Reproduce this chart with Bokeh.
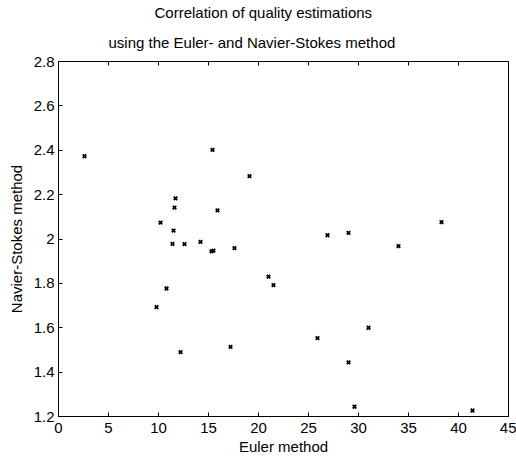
import math
from bokeh.plotting import figure
from bokeh.models import FixedTicker, CustomJSTickFormatter, Title, Range1d
from bokeh.embed import file_html
from bokeh.resources import INLINE

# Data
euler = [2.6, 15.4, 19.1, 11.7, 11.6, 15.9, 10.2, 11.5, 11.4, 12.6,
         14.2, 15.3, 15.5, 17.6, 21.0, 10.8, 9.8, 12.2, 17.2, 21.5,
         26.9, 29.0, 34.0, 38.3, 31.0, 25.9, 29.0, 29.6, 41.4]
navier = [2.373, 2.402, 2.283, 2.183, 2.141, 2.129, 2.074, 2.038, 1.978, 1.977,
          1.987, 1.944, 1.948, 1.959, 1.830, 1.777, 1.693, 1.490, 1.514, 1.792,
          2.017, 2.028, 1.968, 2.076, 1.600, 1.553, 1.444, 1.244, 1.227]

x_ticks = [0, 5, 10, 15, 20, 25, 30, 35, 40, 45]
y_ticks = [1.2, 1.4, 1.6, 1.8, 2.0, 2.2, 2.4, 2.6, 2.8]

title_line1 = "Correlation of quality estimations"
title_line2 = "using the Euler- and Navier-Stokes method"
x_label = "Euler method"
y_label = "Navier-Stokes method"

FONT = "Liberation Sans"

p = figure(width=516, height=461, output_backend="svg", toolbar_location=None,
           title=None,
           x_range=Range1d(x_ticks[0], x_ticks[-1]),
           y_range=Range1d(y_ticks[0], y_ticks[-1]),
           min_border_left=58, min_border_right=8,
           min_border_top=61, min_border_bottom=45)

p.xgrid.visible = False
p.ygrid.visible = False
p.outline_line_color = "black"
p.outline_line_width = 1
p.background_fill_color = "white"
p.border_fill_color = "white"

# tick marks along the top edge (inside the box)
p.scatter(x_ticks, [y_ticks[-1]] * len(x_ticks), marker="dash", angle=math.pi / 2,
          size=8, line_width=1, color="black")

p.scatter(euler, navier, marker="x", size=5, line_width=1.8, color="black")

fmt = CustomJSTickFormatter(code="return String(Number(tick.toFixed(1)))")

for ax, ticks in ((p.xaxis[0], x_ticks), (p.yaxis[0], y_ticks)):
    ax.ticker = FixedTicker(ticks=ticks)
    ax.formatter = fmt
    ax.major_tick_in = 4
    ax.major_tick_out = 0
    ax.minor_tick_line_color = None
    ax.axis_line_color = "black"
    ax.major_tick_line_color = "black"
    ax.major_label_text_font = FONT
    ax.major_label_text_font_size = "15px"
    ax.major_label_text_color = "black"
    ax.axis_label_text_font = FONT
    ax.axis_label_text_font_size = "15px"
    ax.axis_label_text_font_style = "normal"
    ax.axis_label_text_color = "black"

p.xaxis[0].axis_label = x_label
p.yaxis[0].axis_label = y_label
p.xaxis[0].major_label_standoff = 6
p.xaxis[0].axis_label_standoff = 2
p.yaxis[0].major_label_standoff = 4
p.yaxis[0].axis_label_standoff = 6

t2 = Title(text=title_line2, align="left", vertical_align="top", text_font=FONT,
           text_font_size="15px", text_font_style="normal",
           text_color="black", offset=50, standoff=18)
t1 = Title(text=title_line1, align="left", vertical_align="top", text_font=FONT,
           text_font_size="15px", text_font_style="normal",
           text_color="black", offset=96, standoff=4)
p.add_layout(t2, "above")
p.add_layout(t1, "above")

open("out.html", "w").write(file_html(p, INLINE))
